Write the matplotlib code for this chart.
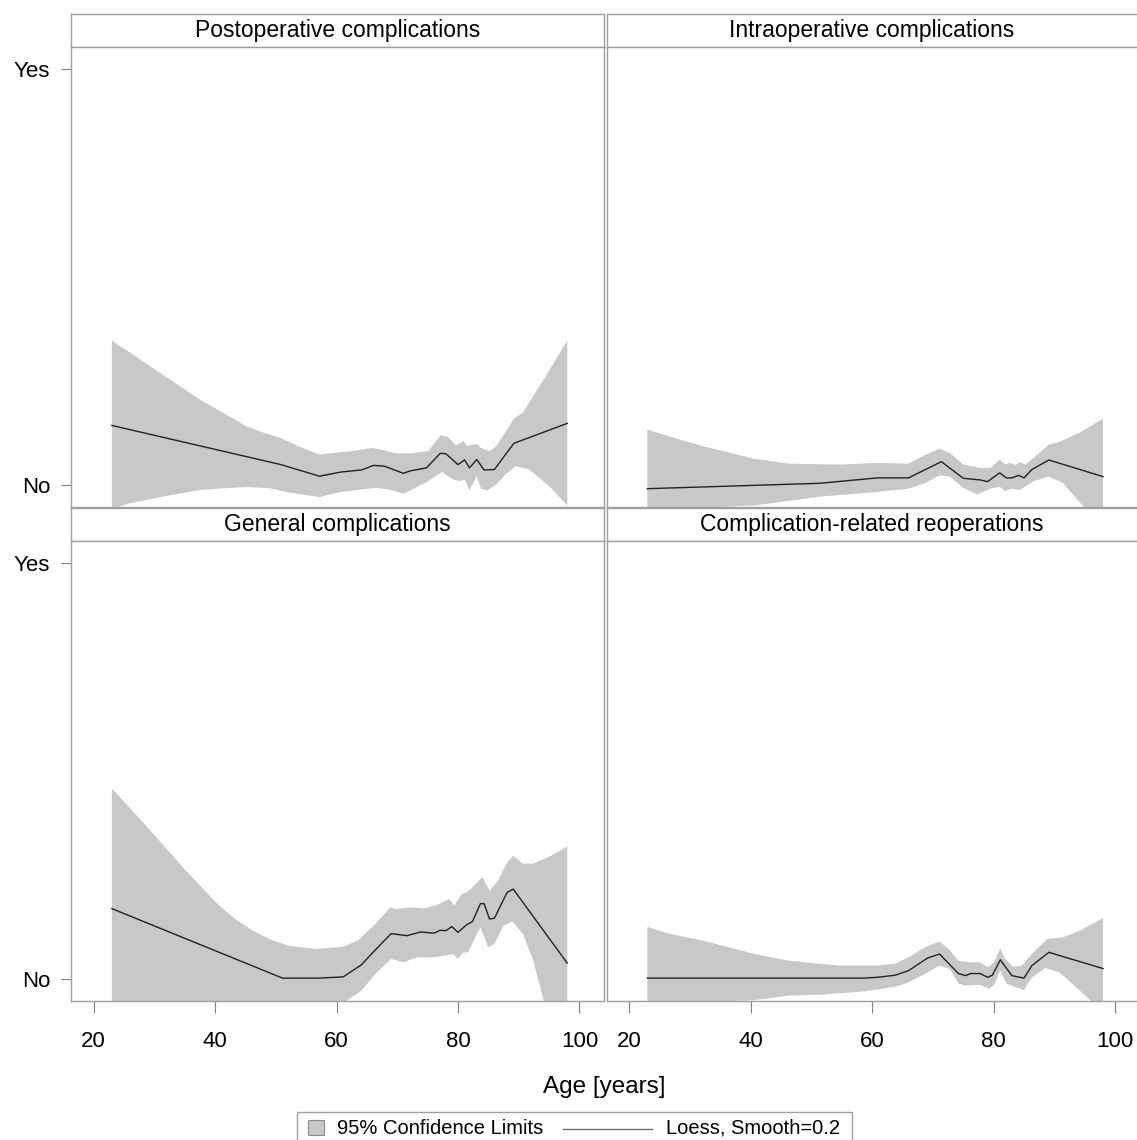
import numpy as np
import matplotlib
matplotlib.use("Agg")
import matplotlib.pyplot as plt
from matplotlib.patches import Rectangle
from matplotlib.lines import Line2D

plt.rcParams['font.family'] = ['Liberation Sans', 'DejaVu Sans']

# --- data (age in years, 0 = No, 1 = Yes) ---
titles = ["Postoperative complications", "Intraoperative complications",
          "General complications", "Complication-related reoperations"]

po_line_age = [23, 50.8, 57.2, 60.7, 64.1, 66.1, 67.9, 71.0, 72.2, 74.8, 77.1, 78.0, 80.0, 81.1, 81.9, 83.1, 84.3, 86.0, 89.2, 98]
po_line_val = [0.144, 0.050, 0.022, 0.032, 0.037, 0.048, 0.046, 0.029, 0.035, 0.042, 0.077, 0.076, 0.050, 0.061, 0.042, 0.062, 0.037, 0.038, 0.101, 0.149]
po_up_age = [23, 26.0, 31.8, 37.6, 40.4, 43.3, 45.1, 47.9, 50.8, 53.7, 57.2, 60.7, 62.4, 65.9, 67.5, 69.9, 72.2, 75.1, 77.1, 78.3, 79.7, 80.9, 81.5, 82.4, 83.2, 83.8, 85.2, 86.3, 89.2, 90.7, 94.1, 98]
po_up_val = [0.348, 0.319, 0.262, 0.205, 0.182, 0.158, 0.142, 0.127, 0.114, 0.094, 0.074, 0.080, 0.082, 0.090, 0.085, 0.077, 0.077, 0.082, 0.120, 0.117, 0.096, 0.106, 0.094, 0.098, 0.099, 0.090, 0.082, 0.094, 0.160, 0.175, 0.254, 0.348]
po_lo_age = [23, 26.0, 31.8, 37.6, 40.4, 45.1, 49.1, 52.0, 57.2, 60.7, 66.4, 68.7, 71.0, 72.2, 74.6, 77.4, 79.2, 80.3, 81.1, 81.9, 83.1, 83.8, 84.9, 86.3, 87.8, 89.5, 91.8, 95.3, 98]
po_lo_val = [-0.056, -0.043, -0.026, -0.011, -0.008, -0.004, -0.007, -0.017, -0.028, -0.016, -0.006, -0.010, -0.020, -0.012, 0.006, 0.032, 0.014, 0.010, 0.014, -0.012, 0.022, -0.008, -0.012, 0.002, 0.026, 0.046, 0.038, -0.006, -0.048]

io_line_age = [23, 51.4, 60.9, 66.0, 71.4, 75.0, 77.8, 79.0, 81.0, 82.1, 83.0, 84.1, 85.0, 86.3, 89.1, 98]
io_line_val = [-0.008, 0.005, 0.018, 0.018, 0.057, 0.017, 0.013, 0.009, 0.030, 0.018, 0.018, 0.024, 0.018, 0.038, 0.061, 0.021]
io_up_age = [23, 26.5, 32.2, 36.7, 40.6, 46.3, 54.7, 60.9, 66.0, 68.8, 71.1, 72.8, 75.0, 77.8, 79.5, 81.0, 81.9, 82.6, 83.7, 84.3, 85.2, 86.6, 89.1, 90.8, 94.2, 98]
io_up_val = [0.134, 0.118, 0.094, 0.078, 0.064, 0.052, 0.050, 0.054, 0.052, 0.074, 0.088, 0.078, 0.050, 0.042, 0.042, 0.062, 0.050, 0.054, 0.049, 0.056, 0.050, 0.066, 0.098, 0.104, 0.127, 0.160]
io_lo_age = [23, 32.2, 40.6, 43.5, 51.4, 60.9, 66.0, 68.8, 71.1, 72.8, 75.0, 77.3, 79.5, 81.0, 81.9, 83.0, 84.3, 85.2, 86.6, 89.1, 91.4, 94.8, 98]
io_lo_val = [-0.06, -0.054, -0.048, -0.043, -0.027, -0.016, -0.008, 0.006, 0.024, 0.021, -0.006, -0.022, -0.008, -0.003, -0.014, -0.008, -0.011, -0.003, 0.010, 0.021, 0.006, -0.051, -0.075]

ge_line_age = [23, 51.1, 57.2, 61.1, 64.1, 66.4, 69.0, 71.6, 73.9, 76.0, 77.1, 78.0, 79.0, 80.0, 81.4, 82.4, 83.7, 84.3, 85.2, 86.0, 88.1, 89.1, 98]
ge_line_val = [0.170, 0.003, 0.003, 0.006, 0.035, 0.071, 0.110, 0.105, 0.114, 0.111, 0.118, 0.117, 0.127, 0.113, 0.131, 0.139, 0.182, 0.182, 0.145, 0.147, 0.209, 0.217, 0.039]
ge_up_age = [23, 28.9, 34.7, 40.4, 43.3, 46.2, 49.1, 52.0, 56.6, 61.2, 63.5, 66.4, 68.8, 69.9, 72.2, 74.6, 76.9, 78.6, 79.4, 80.6, 81.4, 82.4, 84.0, 85.2, 86.6, 88.1, 89.1, 90.7, 92.4, 95.3, 98]
ge_up_val = [0.459, 0.365, 0.269, 0.181, 0.145, 0.117, 0.096, 0.081, 0.073, 0.079, 0.093, 0.133, 0.173, 0.169, 0.173, 0.171, 0.181, 0.193, 0.177, 0.205, 0.209, 0.221, 0.246, 0.213, 0.237, 0.281, 0.297, 0.278, 0.278, 0.297, 0.319]
ge_lo_age = [23, 40, 55, 61.7, 64.1, 66.4, 69.0, 71.0, 73.4, 76.3, 79.2, 80.0, 80.9, 81.7, 83.1, 83.7, 85.0, 86.0, 87.5, 89.0, 90.7, 92.4, 94.1, 98]
ge_lo_val = [-0.16, -0.11, -0.07, -0.051, -0.027, 0.013, 0.049, 0.041, 0.053, 0.053, 0.061, 0.049, 0.065, 0.065, 0.109, 0.125, 0.077, 0.085, 0.129, 0.139, 0.109, 0.045, -0.05, -0.13]

re_line_age = [23, 58.7, 60.9, 63.8, 66.0, 69.1, 71.1, 74.2, 75.4, 76.2, 77.8, 79.0, 79.8, 81.1, 83.0, 85.0, 86.3, 89.1, 98]
re_line_val = [0.003, 0.003, 0.005, 0.010, 0.021, 0.051, 0.061, 0.014, 0.009, 0.014, 0.014, 0.005, 0.010, 0.047, 0.009, 0.003, 0.033, 0.065, 0.026]
re_up_age = [23, 26.5, 32.2, 36.7, 40.6, 46.3, 54.7, 60.9, 63.8, 66.0, 68.8, 71.1, 72.8, 74.2, 76.2, 77.8, 79.0, 80.1, 81.1, 81.7, 83.2, 84.6, 86.3, 88.8, 91.4, 94.2, 98]
re_up_val = [0.126, 0.110, 0.093, 0.076, 0.061, 0.045, 0.033, 0.033, 0.038, 0.053, 0.078, 0.091, 0.070, 0.045, 0.041, 0.041, 0.029, 0.041, 0.075, 0.053, 0.030, 0.033, 0.061, 0.097, 0.101, 0.117, 0.147]
re_lo_age = [23, 40.6, 46.3, 51.4, 58.7, 63.8, 66.0, 68.8, 71.1, 72.8, 74.2, 75.4, 77.8, 79.3, 80.1, 81.1, 82.1, 83.5, 85.0, 86.3, 88.5, 90.8, 94.2, 95.9, 98]
re_lo_val = [-0.06, -0.05, -0.039, -0.037, -0.029, -0.018, -0.007, 0.014, 0.033, 0.025, -0.010, -0.015, -0.013, -0.023, -0.013, 0.022, -0.010, -0.018, -0.026, 0.005, 0.027, 0.017, -0.027, -0.05, -0.08]

x_ticks = [20, 40, 60, 80, 100]
y_ticks = [0, 1]
y_tick_labels = ["No", "Yes"]

panels = [
    (po_line_age, po_line_val, po_up_age, po_up_val, po_lo_age, po_lo_val),
    (io_line_age, io_line_val, io_up_age, io_up_val, io_lo_age, io_lo_val),
    (ge_line_age, ge_line_val, ge_up_age, ge_up_val, ge_lo_age, ge_lo_val),
    (re_line_age, re_line_val, re_up_age, re_up_val, re_lo_age, re_lo_val),
]

W, H = 1137, 1140
frame_col = "#a0a0a0"
band_col = "#c8c8c8"
line_col = "#222222"


def box(x0, y0, x1, y1):
    # pixel box (origin top-left) -> figure rect
    return [x0 / W, 1 - y1 / H, (x1 - x0) / W, (y1 - y0) / H]


fig = plt.figure(figsize=(W / 100, H / 100), dpi=100)

col_x = [(71, 604.3), (606.5, 1140)]
row_y = [((14, 46.5), (47, 507)), ((508, 540.5), (541, 1001))]

for i, (l_age, l_val, u_age, u_val, d_age, d_val) in enumerate(panels):
    r, c = divmod(i, 2)
    x0, x1 = col_x[c]
    (h0, h1), (p0, p1) = row_y[r]

    # header strip with the panel title
    hax = fig.add_axes(box(x0, h0, x1, h1))
    hax.set_xticks([])
    hax.set_yticks([])
    for s in hax.spines.values():
        s.set_color(frame_col)
        s.set_linewidth(1.0)
    hax.text(0.5 if c == 0 else (0.5 * (1137 - x0) / (x1 - x0)), 0.5, titles[i],
             ha="center", va="center", fontsize=16.5, transform=hax.transAxes)

    ax = fig.add_axes(box(x0, p0, x1, p1))
    ax.fill(np.concatenate([u_age, d_age[::-1]]), np.concatenate([u_val, d_val[::-1]]),
            color=band_col, lw=0)
    ax.plot(l_age, l_val, color=line_col, lw=1.0)
    ax.set_xlim(16.27, 104.1)
    ax.set_ylim(-0.052, 1.0535)
    for s in ax.spines.values():
        s.set_color(frame_col)
        s.set_linewidth(1.0)

    if c == 0:
        ax.set_yticks(y_ticks)
        ax.set_yticklabels(y_tick_labels)
        ax.tick_params(axis="y", length=7, width=0.8, color="#808080", pad=8, labelsize=16)
    else:
        ax.set_yticks([])
    if r == 1:
        ax.set_xticks(x_ticks)
        ax.tick_params(axis="x", length=8.6, width=0.8, color="#808080", pad=13, labelsize=16)
    else:
        ax.set_xticks([])

fig.text(604 / W, 1 - 1087 / H, "Age [years]", ha="center", va="center", fontsize=17.5)

# legend box (runs off the bottom like the original)
fig.add_artist(Rectangle((297 / W, 1 - 1160 / H), (851.7 - 297) / W, (1160 - 1111.7) / H,
                         transform=fig.transFigure, fill=False, edgecolor=frame_col, lw=1.0))
fig.add_artist(Rectangle((308 / W, 1 - 1135 / H), 16 / W, 15 / H, transform=fig.transFigure,
                         facecolor=band_col, edgecolor="#8a8a8a", lw=0.8))
fig.text(337 / W, 1 - 1128 / H, "95% Confidence Limits", ha="left", va="center", fontsize=14.5)
fig.add_artist(Line2D([563 / W, 652 / W], [1 - 1129 / H, 1 - 1129 / H],
                      transform=fig.transFigure, color="#707070", lw=1.0))
fig.text(666 / W, 1 - 1128 / H, "Loess, Smooth=0.2", ha="left", va="center", fontsize=14.5)

fig.savefig("out.png", dpi=100)
